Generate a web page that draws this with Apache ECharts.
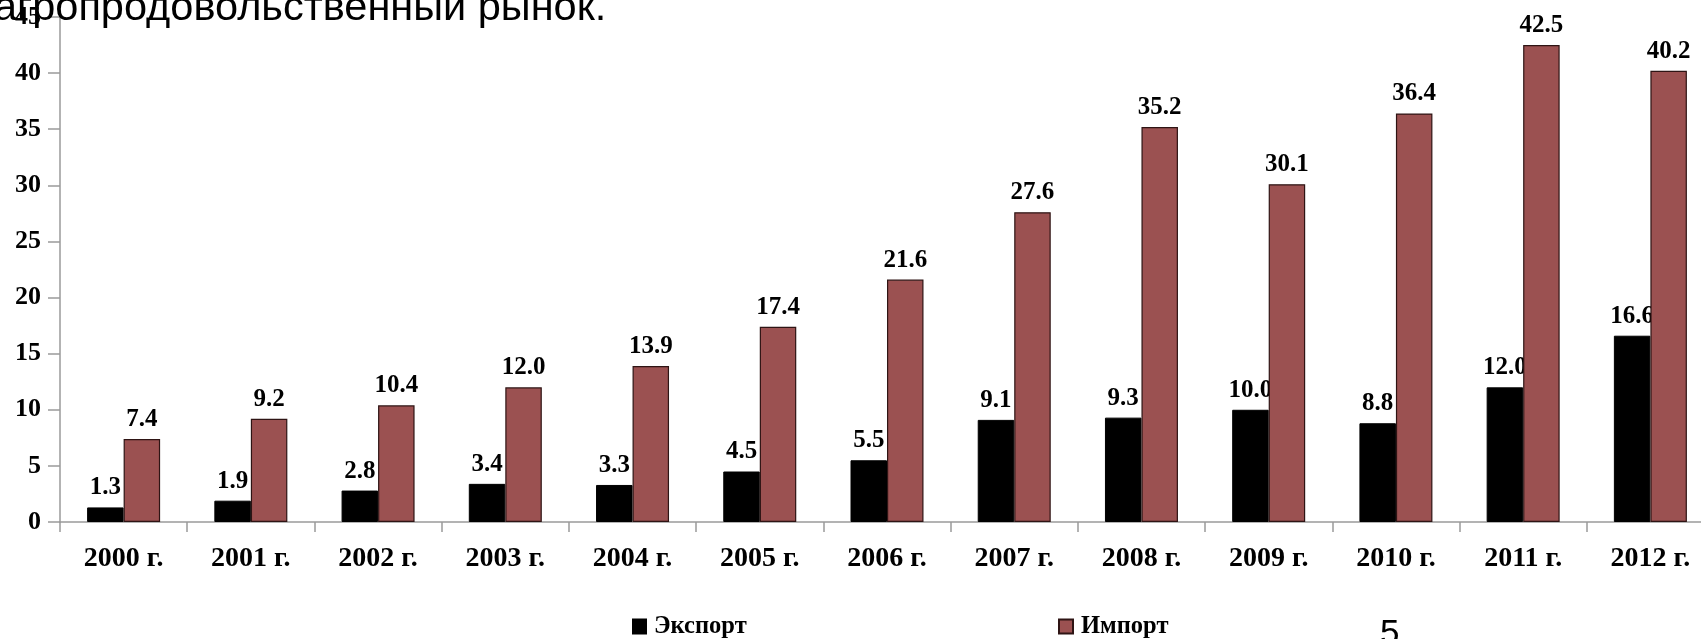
<!DOCTYPE html>
<html lang="ru">
<head>
    <meta charset="UTF-8">
    <title>index</title>
    <script src="https://cdn.jsdelivr.net/npm/echarts@6/dist/echarts.min.js"></script>
    <style>
        html, body { margin: 0; padding: 0; background: #fff; }
        #chart { width: 1701px; height: 639px; }
    </style>
</head>
<body>
<div id="chart"></div>
<script>
    // данные
    var years = ['2000 г.', '2001 г.', '2002 г.', '2003 г.', '2004 г.', '2005 г.', '2006 г.',
                 '2007 г.', '2008 г.', '2009 г.', '2010 г.', '2011 г.', '2012 г.'];
    var exportVals = [1.3, 1.9, 2.8, 3.4, 3.3, 4.5, 5.5, 9.1, 9.3, 10.0, 8.8, 12.0, 16.6];
    var importVals = [7.4, 9.2, 10.4, 12.0, 13.9, 17.4, 21.6, 27.6, 35.2, 30.1, 36.4, 42.5, 40.2];
    var seriesNames = ['Экспорт', 'Импорт'];

    var labelFont = {
        show: true,
        position: 'top',
        distance: 7,
        fontFamily: 'Liberation Serif',
        fontWeight: 'bold',
        fontSize: 25,
        color: '#000',
        formatter: function (p) { return p.value.toFixed(1); }
    };
    var legendText = { fontFamily: 'Liberation Serif', fontWeight: 'bold', fontSize: 24.5, color: '#000', padding: [0, 0, 0, 3] };

    var chart = echarts.init(document.getElementById('chart'));
    chart.setOption({
        animation: false,
        textStyle: { fontFamily: 'Liberation Serif' },
        grid: { left: 60, top: 17, bottom: 117, width: 1654, containLabel: false, outerBoundsMode: 'none' },
        legend: [
            {
                data: [seriesNames[0]], left: 632, top: 614, padding: 0, icon: 'rect',
                itemWidth: 13, itemHeight: 14, textStyle: legendText
            },
            {
                data: [seriesNames[1]], left: 1058, top: 614, padding: 0, icon: 'rect',
                itemWidth: 14, itemHeight: 14, textStyle: legendText
            }
        ],
        xAxis: {
            type: 'category',
            data: years,
            axisLine: { lineStyle: { color: '#9a9a9a', width: 1.5 } },
            axisTick: { show: true, alignWithLabel: false, length: 10, lineStyle: { color: '#9a9a9a', width: 1.5 } },
            axisLabel: {
                interval: 0, margin: 23,
                fontFamily: 'Liberation Serif', fontWeight: 'bold', fontSize: 28, color: '#000'
            }
        },
        yAxis: {
            type: 'value',
            min: 0, max: 45, interval: 5,
            splitLine: { show: false },
            axisLine: { show: true, lineStyle: { color: '#9a9a9a', width: 1.5 } },
            axisTick: { show: true, length: 12, lineStyle: { color: '#9a9a9a', width: 1.5 } },
            axisLabel: {
                margin: 19,
                fontFamily: 'Liberation Serif', fontWeight: 'bold', fontSize: 26, color: '#000'
            }
        },
        series: [
            {
                name: seriesNames[0],
                type: 'bar',
                z: 2,
                barWidth: 36.5,
                barGap: '0%',
                data: exportVals,
                itemStyle: { color: '#000', borderColor: '#000', borderWidth: 1 },
                label: labelFont
            },
            {
                name: seriesNames[1],
                type: 'bar',
                z: 3,
                barWidth: 36.5,
                barGap: '0%',
                data: importVals,
                itemStyle: { color: '#9b5151', borderColor: '#2e1414', borderWidth: 1.2 },
                label: labelFont
            }
        ],
        graphic: [
            {
                type: 'text', left: -6, top: -12, z: 10,
                style: { text: 'агропродовольственный рынок.', font: '41.5px "Liberation Sans"', fill: '#000' }
            },
            {
                type: 'text', left: 1380, top: 617, z: 10,
                style: { text: '5', font: '35px "Liberation Sans"', fill: '#000' }
            }
        ]
    });
</script>
</body>
</html>
